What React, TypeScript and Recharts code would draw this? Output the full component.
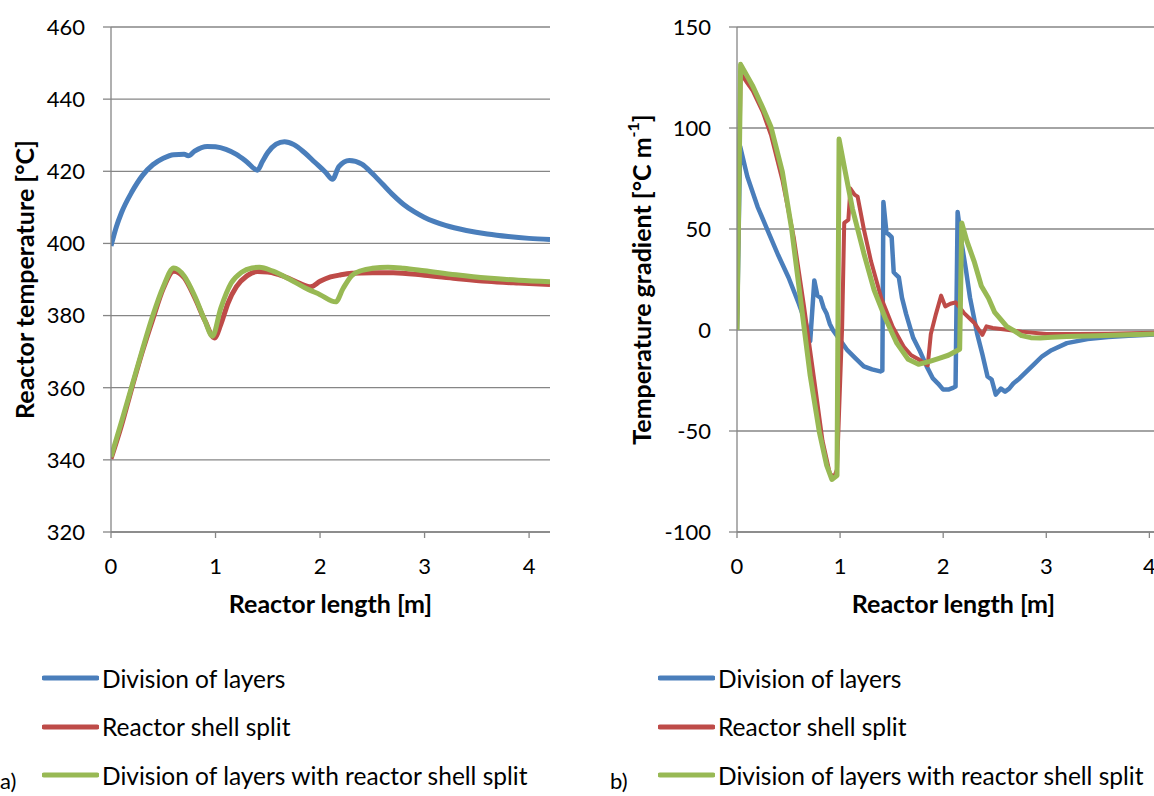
import React from "react";
import { LineChart, Line, XAxis, YAxis, CartesianGrid, Legend, Label } from "recharts";

const FONT = "Lato, 'Open Sans', sans-serif";
const BLUE = "rgb(74,126,187)";
const RED = "rgb(190,75,72)";
const GREEN = "rgb(152,185,84)";
const GRID = "rgb(134,134,134)";

const seriesNames = [
  "Division of layers",
  "Reactor shell split",
  "Division of layers with reactor shell split",
];

const lengthTicks = [0, 1, 2, 3, 4];
const tempTicks = [320, 340, 360, 380, 400, 420, 440, 460];
const gradTicks = [-100, -50, 0, 50, 100, 150];

// (a) reactor temperature [°C] along the reactor length [m]
const tempLayersX = [0, 0.05, 0.1, 0.2, 0.3, 0.4, 0.5, 0.6, 0.7, 0.74, 0.8, 0.92, 1.0, 1.1, 1.2, 1.3, 1.4, 1.45, 1.5, 1.58, 1.66, 1.75, 1.85, 1.95, 2.05, 2.12, 2.18, 2.28, 2.4, 2.5, 2.6, 2.7, 2.8, 2.9, 3.0, 3.2, 3.4, 3.6, 3.8, 4.0, 4.2];
const tempLayersY = [399.3, 404.5, 408.5, 414.3, 418.8, 421.8, 423.6, 424.6, 424.7, 424.3, 425.6, 426.9, 426.8, 426.1, 424.7, 422.6, 420.3, 422.8, 425.2, 427.5, 428.2, 427.4, 425.2, 422.5, 419.8, 417.8, 421.3, 423.0, 422.0, 419.4, 416.4, 413.4, 410.8, 408.8, 407.2, 405.0, 403.6, 402.6, 401.9, 401.4, 401.1];

const tempShellX = [0, 0.1, 0.2, 0.3, 0.4, 0.5, 0.6, 0.7, 0.8, 0.9, 0.99, 1.05, 1.12, 1.2, 1.3, 1.4, 1.5, 1.6, 1.7, 1.8, 1.91, 2.0, 2.1, 2.2, 2.3, 2.5, 2.7, 3.0, 3.3, 3.6, 3.9, 4.2];
const tempShellY = [340.3, 349.5, 360, 370, 379, 387.5, 392.3, 390.5, 385, 378.5, 373.8, 377.5, 383.5, 388, 391, 392.2, 392.1, 391.4, 390.3, 389, 388, 389.5, 390.7, 391.3, 391.7, 391.9, 391.9, 391.2, 390.3, 389.5, 389, 388.6];

const tempBothX = [0, 0.1, 0.2, 0.3, 0.4, 0.5, 0.6, 0.7, 0.8, 0.9, 0.97, 1.05, 1.15, 1.25, 1.35, 1.42, 1.55, 1.7, 1.85, 2.0, 2.15, 2.22, 2.3, 2.4, 2.5, 2.65, 2.8, 3.0, 3.3, 3.6, 3.9, 4.2];
const tempBothY = [340.8, 350.5, 360.5, 370.5, 380, 388, 393.2, 391, 385.5, 378.5, 374.3, 382, 389, 392, 393.2, 393.4, 392.3, 390.2, 387.8, 385.8, 383.8, 387.5, 391, 392.5, 393.1, 393.4, 393.1, 392.4, 391.3, 390.4, 389.8, 389.4];

// (b) temperature gradient [°C/m] along the reactor length [m]
const gradLayersX = [0, 0.03, 0.1, 0.2, 0.3, 0.4, 0.5, 0.6, 0.67, 0.71, 0.75, 0.78, 0.81, 0.84, 0.87, 0.9, 0.93, 1.0, 1.07, 1.15, 1.23, 1.31, 1.39, 1.41, 1.42, 1.45, 1.47, 1.5, 1.52, 1.55, 1.57, 1.6, 1.64, 1.68, 1.71, 1.77, 1.84, 1.9, 1.95, 2.0, 2.05, 2.1, 2.12, 2.14, 2.18, 2.22, 2.26, 2.33, 2.38, 2.43, 2.47, 2.51, 2.56, 2.6, 2.64, 2.68, 2.74, 2.8, 2.88, 2.96, 3.05, 3.2, 3.4, 3.6, 3.8, 4.0, 4.2];
const gradLayersY = [0, 91, 76, 61, 49, 37, 26, 13, 3, -5.5, 24.5, 17, 16, 11, 8, 3, 0, -5, -10, -14, -18, -19.5, -20.5, -20, 63.4, 48, 47.5, 46, 28.6, 27, 26, 16, 8, 1, -4, -10, -18, -24, -26.5, -29.5, -29.5, -28.5, -28, 58.4, 42.7, 30, 16, -2, -12, -23, -24.5, -32, -29, -30.5, -29, -26.5, -24, -21, -17, -13, -10, -6.5, -4.5, -3.5, -2.8, -2.3, -2];

const gradShellX = [0, 0.035, 0.15, 0.25, 0.33, 0.44, 0.55, 0.65, 0.76, 0.83, 0.9, 0.94, 0.97, 1.02, 1.04, 1.08, 1.1, 1.14, 1.17, 1.23, 1.3, 1.4, 1.51, 1.62, 1.69, 1.76, 1.85, 1.88, 1.93, 1.98, 2.02, 2.07, 2.12, 2.2, 2.3, 2.38, 2.42, 2.48, 2.6, 2.76, 3.0, 3.3, 3.6, 4.2];
const gradShellY = [0, 127, 118.7, 108, 96.5, 74.3, 46, 11.7, -28.7, -54.9, -71, -73, -69, 1.6, 53, 54.5, 70, 67, 66, 50, 34, 15.7, 1.6, -8.5, -12.5, -14.5, -17.5, -2, 8, 17, 11.7, 13, 13.7, 8.5, 3.6, -2.4, 1.8, 1.0, 0.2, -0.8, -2, -2, -1.8, -1.2];

const gradBothX = [0, 0.035, 0.154, 0.25, 0.33, 0.44, 0.53, 0.62, 0.71, 0.8, 0.87, 0.92, 0.97, 0.99, 1.05, 1.12, 1.23, 1.33, 1.44, 1.55, 1.66, 1.76, 1.87, 1.96, 2.05, 2.16, 2.18, 2.23, 2.3, 2.37, 2.44, 2.5, 2.55, 2.62, 2.69, 2.76, 2.85, 2.94, 3.05, 3.2, 3.5, 3.8, 4.2];
const gradBothY = [0, 131.5, 120.7, 110, 100.5, 78.3, 50, 13.7, -22.6, -50.9, -67, -74, -72, 94.5, 78.3, 60, 38, 19.8, 5.7, -6.5, -14.5, -17, -15.5, -14, -12.5, -9.5, 53, 44, 34, 21.8, 15.7, 8.7, 5.7, 1.6, -0.4, -2.8, -3.8, -4, -3.6, -3.2, -2.8, -2.3, -1.8];

const pts = (xs: number[], ys: number[]) => xs.map((x, i) => ({ x, y: ys[i] }));

const tickStyle = { fill: "#000", fontSize: 22, fontFamily: FONT };
const titleStyle = { fill: "#000", fontSize: 25, fontFamily: FONT, fontWeight: 700 };

function LegendRows({ payload }: any) {
  // keep the series order (Recharts sorts the payload by name)
  const rows = [...(payload || [])].sort(
    (a: any, b: any) => seriesNames.indexOf(a.value) - seriesNames.indexOf(b.value)
  );
  return (
    <div style={{ fontFamily: FONT, fontSize: 24.5, color: "#000" }}>
      {rows.map((p: any) => (
        <div key={p.value} style={{ display: "flex", alignItems: "center", height: 48.5 }}>
          <svg width={57} height={8}>
            <line x1={2} y1={4} x2={55} y2={4} stroke={p.color} strokeWidth={5} strokeLinecap="round" />
          </svg>
          <span style={{ marginLeft: 3, whiteSpace: "nowrap" }}>{p.value}</span>
        </div>
      ))}
    </div>
  );
}

function YTitle({ viewBox, cx, text, sup }: any) {
  const vb = viewBox ?? { x: 0, y: 27, width: 111, height: 505 };
  const px = vb.x + cx;
  const py = vb.y + vb.height / 2;
  return (
    <text
      x={px}
      y={py}
      transform={`rotate(-90 ${px} ${py})`}
      textAnchor="middle"
      dominantBaseline="central"
      {...titleStyle}
    >
      {text}
      {sup && (
        <tspan fontSize={16} dy={-9}>
          {sup}
        </tspan>
      )}
      {sup && <tspan dy={9}>]</tspan>}
    </text>
  );
}

type PanelProps = {
  width: number;
  yWidth: number;
  domain: [number, number];
  yTicks: number[];
  curve: "monotone" | "linear";
  widths: number[];
  data: { x: number; y: number }[][];
  yTitle: React.ReactNode;
  legendLeft: number;
};

function Panel({ width, yWidth, domain, yTicks, curve, widths, data, yTitle, legendLeft }: PanelProps) {
  const colors = [BLUE, RED, GREEN];
  return (
    <LineChart width={width} height={796} margin={{ top: 27, right: 10, bottom: 204, left: 0 }}>
      <CartesianGrid vertical={false} stroke={GRID} strokeWidth={1.3} />
      <XAxis
        dataKey="x"
        type="number"
        domain={[0, 4.2]}
        ticks={lengthTicks}
        allowDataOverflow
        height={60}
        tick={tickStyle}
        tickSize={6}
        tickMargin={20}
        stroke={GRID}
        axisLine={{ stroke: GRID, strokeWidth: 1.3 }}
        tickLine={{ stroke: GRID, strokeWidth: 1.3 }}
      >
        <Label value="Reactor length [m]" position="bottom" offset={3} style={titleStyle} />
      </XAxis>
      <YAxis
        dataKey="y"
        type="number"
        domain={domain}
        ticks={yTicks}
        allowDataOverflow
        width={yWidth}
        tick={tickStyle}
        tickSize={8}
        tickMargin={18}
        axisLine={{ stroke: GRID, strokeWidth: 1.3 }}
        tickLine={{ stroke: GRID, strokeWidth: 1.3 }}
      >
        <Label content={yTitle as any} />
      </YAxis>
      <Legend
        layout="horizontal"
        verticalAlign="middle"
        align="center"
        content={<LegendRows />}
        wrapperStyle={{ left: legendLeft, top: 654, width: 560 }}
      />
      {data.map((d, i) => (
        <Line
          key={seriesNames[i]}
          name={seriesNames[i]}
          data={d}
          dataKey="y"
          type={curve}
          stroke={colors[i]}
          strokeWidth={widths[i]}
          strokeLinejoin="round"
          dot={false}
          activeDot={false}
          isAnimationActive={false}
        />
      ))}
    </LineChart>
  );
}

export default function App() {
  return (
    <div
      style={{
        position: "absolute",
        left: 0,
        top: 0,
        width: 1154,
        height: 796,
        overflow: "hidden",
        background: "#fff",
        fontFamily: FONT,
      }}
    >
      <div style={{ position: "absolute", left: 0, top: 0 }}>
        <Panel
          width={560}
          yWidth={111}
          domain={[320, 460]}
          yTicks={tempTicks}
          curve="monotone"
          widths={[5, 5, 5]}
          data={[pts(tempLayersX, tempLayersY), pts(tempShellX, tempShellY), pts(tempBothX, tempBothY)]}
          yTitle={<YTitle cx={24} text="Reactor temperature [°C]" />}
          legendLeft={42}
        />
      </div>
      <div style={{ position: "absolute", left: 580, top: 0 }}>
        <Panel
          width={600}
          yWidth={157}
          domain={[-100, 150]}
          yTicks={gradTicks}
          curve="linear"
          widths={[4.5, 4, 5]}
          data={[pts(gradLayersX, gradLayersY), pts(gradShellX, gradShellY), pts(gradBothX, gradBothY)]}
          yTitle={<YTitle cx={61} text="Temperature gradient [°C m" sup="-1" />}
          legendLeft={78}
        />
      </div>
      <div style={{ position: "absolute", left: 0, top: 768, fontSize: 22, lineHeight: "26px" }}>a)</div>
      <div style={{ position: "absolute", left: 610, top: 768, fontSize: 22, lineHeight: "26px" }}>b)</div>
    </div>
  );
}
